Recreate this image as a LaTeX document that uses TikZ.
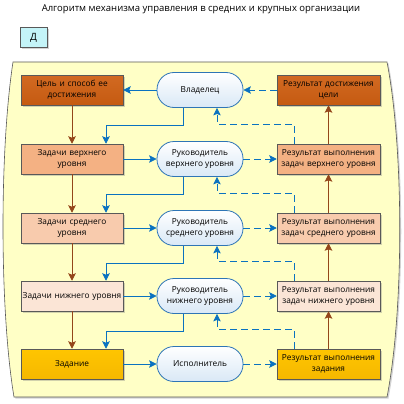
\documentclass[tikz,border=0pt]{standalone}
\usepackage{fontspec}
\setmainfont{Open Sans}
\usetikzlibrary{arrows.meta,shadows}
\definecolor{bgyel}{HTML}{FFFFC6}
\definecolor{frame}{HTML}{595959}
\definecolor{cA}{HTML}{C55A11}
\definecolor{cAt}{HTML}{D26A22}
\definecolor{cB}{HTML}{F4B183}
\definecolor{cC}{HTML}{F8CBAD}
\definecolor{cD}{HTML}{FBE5D6}
\definecolor{cE}{HTML}{F5B800}
\definecolor{cEt}{HTML}{FFC500}
\definecolor{ovb}{HTML}{2E75B6}
\definecolor{ovf}{HTML}{D9E8F6}
\definecolor{blu}{HTML}{0A72C0}
\definecolor{brn}{HTML}{94461A}
\definecolor{dcol}{HTML}{C4F4F8}
\tikzset{
  sh/.style={drop shadow={opacity=0.35,shadow xshift=1.5pt,shadow yshift=-1.5pt}},
  lbox/.style={draw=frame, line width=0.5pt, minimum width=102pt, minimum height=30pt, text width=100pt, align=center, inner sep=1pt, sh},
  rbox/.style={lbox, minimum width=103pt, text width=101pt},
  oval/.style={draw=ovb, line width=0.8pt, rounded corners=17pt, top color=white, bottom color=ovf, minimum width=86pt, minimum height=35pt, align=center, inner sep=1pt},
  brarrow/.style={draw=brn, line width=0.8pt, -{Stealth[length=7.5pt,width=7.5pt,inset=1.5pt]}, color=brn},
  blarrow/.style={draw=blu, line width=0.8pt, -{Stealth[length=7.5pt,width=7.5pt,inset=1.5pt]}, color=blu},
  bldash/.style={blarrow, dash pattern=on 7pt off 4pt},
}
\begin{document}
\begin{tikzpicture}[x=1pt,y=-1pt, font=\fontsize{8.3}{11}\selectfont]
\useasboundingbox (0,0) rectangle (404,404);
% background
\path[fill=bgyel, draw=frame, line width=0.6pt, sh]
  (13,62) -- (387,62) .. controls (404,150) and (404,310) .. (387,397)
  -- (14,397) .. controls (-0.5,310) and (-0.5,150) .. (13,62) -- cycle;
% title
\node[font=\fontsize{9.5}{11}\selectfont] (title) at (201,9) {Алгоритм механизма управления в средних и крупных организации};
\node[draw=frame, line width=0.5pt, fill=dcol, minimum width=27pt, minimum height=20pt, font=\fontsize{10}{12}\selectfont, sh] (D) at (33.5,37.5) {Д};
% left column
\node[lbox, top color=cAt, bottom color=cA] (L1) at (72,90) {Цель и способ ее\\достижения};
\node[lbox, fill=cB] (L2) at (72,159) {Задачи верхнего\\уровня};
\node[lbox, fill=cC] (L3) at (72,228) {Задачи среднего\\уровня};
\node[lbox, fill=cD] (L4) at (72,296) {Задачи нижнего уровня};
\node[lbox, top color=cEt, bottom color=cE] (L5) at (72,364) {Задание};
% ovals
\node[oval] (O1) at (200,90) {Владелец};
\node[oval] (O2) at (200,159) {Руководитель\\верхнего уровня};
\node[oval] (O3) at (200,228) {Руководитель\\среднего уровня};
\node[oval] (O4) at (200,296) {Руководитель\\нижнего уровня};
\node[oval] (O5) at (200,364) {Исполнитель};
% right column
\node[rbox, top color=cAt, bottom color=cA] (R1) at (328.5,90) {Результат достижения\\цели};
\node[rbox, fill=cB] (R2) at (328.5,159) {Результат выполнения\\задач верхнего уровня};
\node[rbox, fill=cC] (R3) at (328.5,228) {Результат выполнения\\задач среднего уровня};
\node[rbox, fill=cD] (R4) at (328.5,296) {Результат выполнения\\задач нижнего уровня};
\node[rbox, top color=cEt, bottom color=cE] (R5) at (328.5,364) {Результат выполнения\\задания};
% brown arrows
\foreach \a/\b in {L1/L2,L2/L3,L3/L4,L4/L5,R2/R1,R3/R2,R4/R3,R5/R4}
  \draw[brarrow] (\a) -- (\b);
% horizontal blue
\draw[blarrow] (O1) -- (L1);
\foreach \i in {2,...,5}{
  \draw[blarrow] (L\i) -- (O\i);
  \draw[bldash] (O\i) -- (R\i);
}
\draw[bldash] (R1) -- (O1);
% elbow connectors
\foreach \i/\j in {1/2,2/3,3/4,4/5}{
  \draw[blarrow] ([xshift=-17pt]O\i.south) -- ++(0,17) -| ([xshift=34pt]L\j.north);
  \draw[bldash] ([xshift=-34.5pt]R\j.north) -- ++(0,-19.5) -| ([xshift=17pt]O\i.south);
}
\end{tikzpicture}
\end{document}
